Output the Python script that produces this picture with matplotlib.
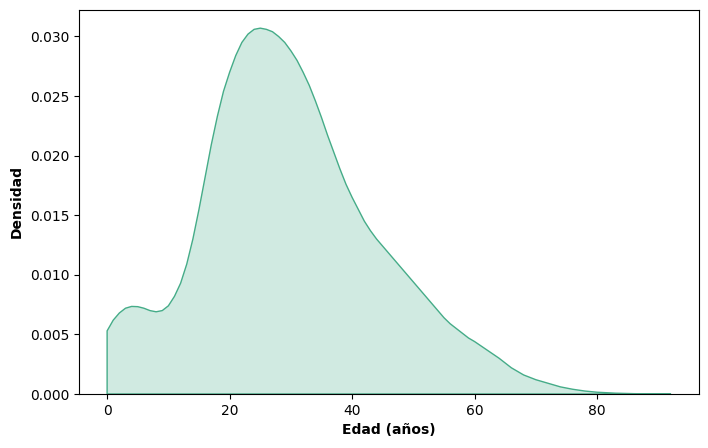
import matplotlib
matplotlib.use('Agg')
import matplotlib.pyplot as plt

# Densidad estimada (KDE)
edad = [0, 1, 2, 3, 4, 5, 6, 7, 8, 9, 10, 11, 12, 13, 14, 15, 16, 17, 18, 19,
        20, 21, 22, 23, 24, 25, 26, 27, 28, 29, 30, 31, 32, 33, 34, 35, 36, 37,
        38, 39, 40, 41, 42, 43, 44, 45, 46, 47, 48, 49, 50, 51, 52, 53, 54, 55,
        56, 57, 58, 59, 60, 62, 64, 66, 68, 70, 72, 74, 76, 78, 80, 83, 86, 89, 92]
densidad = [0.0053, 0.0062, 0.0068, 0.0072, 0.00735, 0.00733, 0.0072, 0.0070,
            0.0069, 0.0070, 0.0074, 0.0082, 0.0093, 0.0109, 0.0130, 0.0155,
            0.0182, 0.0209, 0.0233, 0.0254, 0.0270, 0.0284, 0.0295, 0.0302,
            0.0306, 0.0307, 0.0306, 0.0304, 0.0300, 0.0295, 0.0288, 0.0280,
            0.0270, 0.0259, 0.0246, 0.0232, 0.0217, 0.0203, 0.0189, 0.0176,
            0.0165, 0.0155, 0.0145, 0.0137, 0.0130, 0.0124, 0.0118, 0.0112,
            0.0106, 0.0100, 0.0094, 0.0088, 0.0082, 0.0076, 0.0070, 0.0064,
            0.0059, 0.0055, 0.0051, 0.0047, 0.0044, 0.0037, 0.0030, 0.0022,
            0.0016, 0.0012, 0.0009, 0.0006, 0.0004, 0.00025, 0.00015, 0.00007,
            0.00003, 0.00001, 0.0]

color = '#45ac88'

fig, ax = plt.subplots(figsize=(7.08, 4.48), dpi=100)
fig.subplots_adjust(left=0.1115, right=0.987, top=0.978, bottom=0.1205)

ax.fill_between(edad, densidad, 0, facecolor=color, alpha=0.25, linewidth=0)
ax.fill_between(edad, densidad, 0, facecolor='none', edgecolor=color, linewidth=1)

ax.set_ylim(0, max(densidad) * 1.05)
ax.set_xlabel('Edad (años)', fontweight='bold')
ax.set_ylabel('Densidad', fontweight='bold')

plt.savefig('out.png')
